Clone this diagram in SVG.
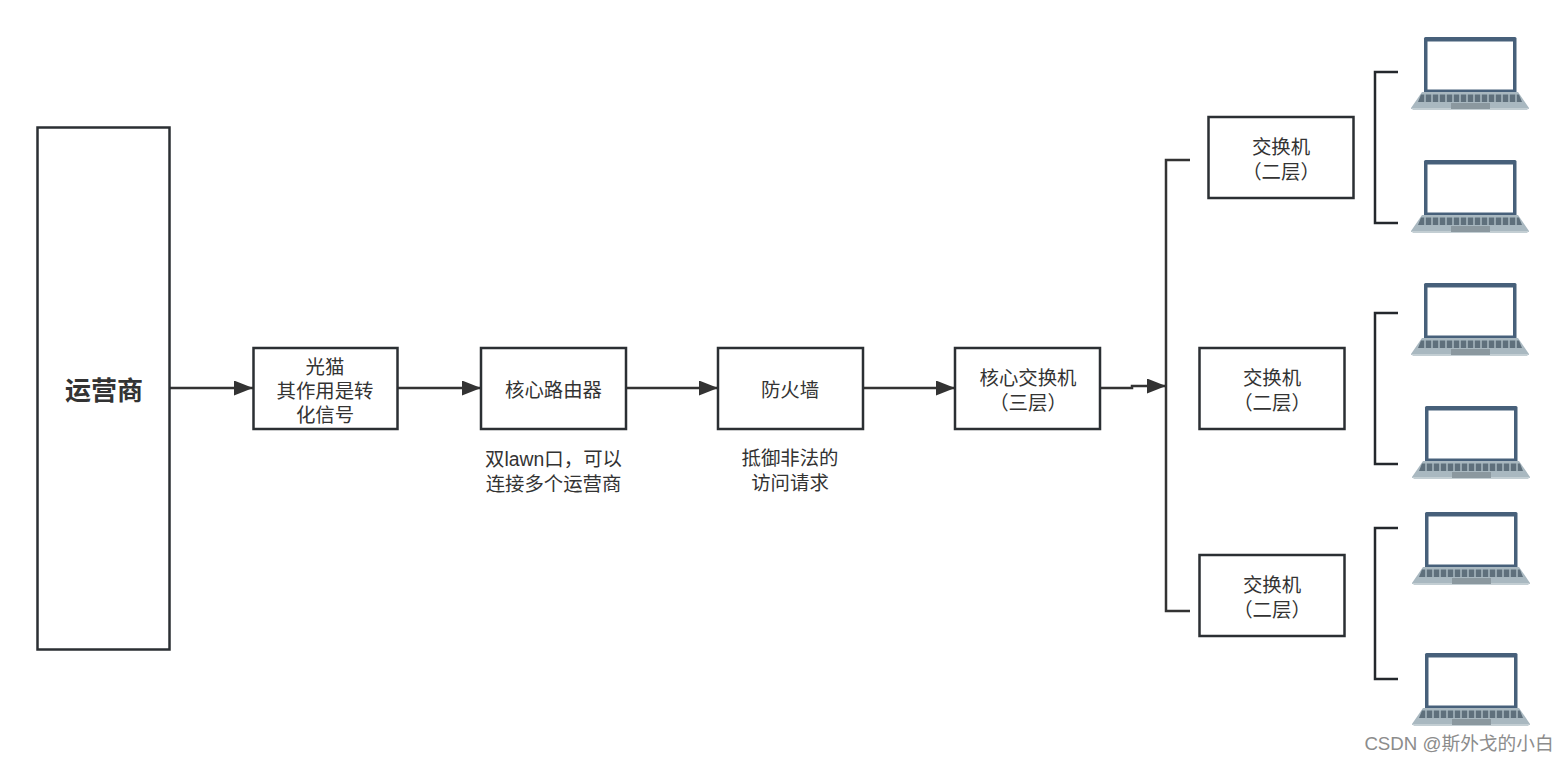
<svg xmlns="http://www.w3.org/2000/svg" width="1567" height="762" viewBox="0 0 1567 762">
<style>
.box{fill:#fff;stroke:#2b2f33;stroke-width:2.500}
.ln{fill:none;stroke:#333;stroke-width:2.500}
.br{fill:none;stroke:#24282c;stroke-width:2.500}
text{font-family:"Liberation Sans","Noto Sans CJK SC",sans-serif;font-size:19.400px;fill:#333;text-anchor:middle}
</style>
<defs>
<filter id="soft" x="-5%" y="-5%" width="110%" height="110%"><feGaussianBlur stdDeviation="0.45"/></filter>
<marker id="ah" markerUnits="userSpaceOnUse" markerWidth="20" markerHeight="16" refX="19" refY="7.500" orient="auto"><path d="M0 0L19 7.500L0 15Z" fill="#333"/></marker>
<g id="laptop" filter="url(#soft)">
<path d="M-1 1.500Q-1 0 .5 0H90Q91.500 0 91.500 1.500V56H-1Z" fill="#46607a"/>
<rect x="2.500" y="4.500" width="85.500" height="48" fill="#fff"/>
<path d="M-3 55H93L104 71V72H-14V71Z" fill="#a9b8c0"/>
<path d="M-14 71H104L102 73H-12Z" fill="#c3ced3"/>
<path d="M-4 57.500H94L97 65H-7Z" fill="#5f707c"/>
<g stroke="#a9b8c0" stroke-width="1.500"><path d="M0 57V66M7 57V66M14 57V66M21 57V66M28 57V66M35 57V66M42 57V66M49 57V66M56 57V66M63 57V66M70 57V66M77 57V66M84 57V66M91 57V66"/></g>
<rect x="26" y="66" width="39" height="6" fill="#8b989f"/>
</g>
</defs>
<rect width="1567" height="762" fill="#fff"/>
<g id="connectors">
<path class="ln" d="M170 388H253" marker-end="url(#ah)"/>
<path class="ln" d="M398 388H481" marker-end="url(#ah)"/>
<path class="ln" d="M626 388H718" marker-end="url(#ah)"/>
<path class="ln" d="M863 388H955" marker-end="url(#ah)"/>
<path class="ln" d="M1100 388H1132V386H1166" marker-end="url(#ah)"/>
<path class="ln" d="M1190 160H1166V611H1190"/>
<path class="br" d="M1398 72H1375V223H1398"/>
<path class="br" d="M1398 313H1375V464H1398"/>
<path class="br" d="M1398 528H1375V679H1398"/>
</g>
<g id="n-isp"><rect class="box" x="37.500" y="127.500" width="132" height="522"/><text x="104" y="400" style="font-size:26px;font-weight:700">运营商</text></g>
<g id="n-modem"><rect class="box" x="253.500" y="348" width="144" height="81"/><text x="325" y="374">光猫</text><text x="325" y="398">其作用是转</text><text x="325" y="422">化信号</text></g>
<g id="n-router"><rect class="box" x="481" y="348" width="145" height="81"/><text x="553.500" y="397">核心路由器</text></g>
<g id="n-firewall"><rect class="box" x="718" y="348" width="145" height="81"/><text x="790" y="397">防火墙</text></g>
<g id="n-core"><rect class="box" x="955" y="348" width="145" height="81"/><text x="1028" y="385">核心交换机</text><text x="1028" y="410">（三层）</text></g>
<g id="n-sw1"><rect class="box" x="1208.500" y="117" width="145" height="81"/><text x="1281" y="154">交换机</text><text x="1281" y="179">（二层）</text></g>
<g id="n-sw2"><rect class="box" x="1199.500" y="348" width="145" height="81"/><text x="1272" y="385">交换机</text><text x="1272" y="410">（二层）</text></g>
<g id="n-sw3"><rect class="box" x="1199.500" y="555" width="145" height="81"/><text x="1272" y="592">交换机</text><text x="1272" y="617">（二层）</text></g>
<g id="label-router"><text x="553.500" y="466">双lawn口，可以</text><text x="553.500" y="491">连接多个运营商</text></g>
<g id="label-firewall"><text x="790" y="465">抵御非法的</text><text x="790" y="490">访问请求</text></g>
<g id="pc1"><use href="#laptop" x="1425" y="37"/></g>
<g id="pc2"><use href="#laptop" x="1425" y="160"/></g>
<g id="pc3"><use href="#laptop" x="1425" y="283"/></g>
<g id="pc4"><use href="#laptop" x="1426" y="406"/></g>
<g id="pc5"><use href="#laptop" x="1426" y="512"/></g>
<g id="pc6"><use href="#laptop" x="1426" y="653"/></g>
<text id="watermark" x="1459" y="750" style="font-size:18.700px;fill:#8c8c8c">CSDN @斯外戈的小白</text>
</svg>
